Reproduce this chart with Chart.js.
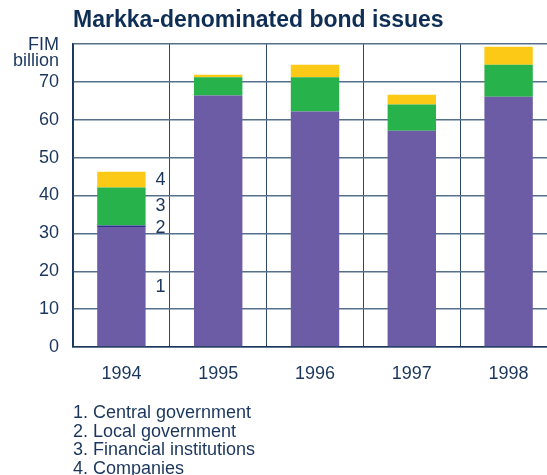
<!DOCTYPE html>
<html lang="en">
  <head>
    <meta charset="UTF-8" />
    <title>Markka-denominated bond issues</title>
    <script src="https://cdn.jsdelivr.net/npm/chart.js"></script>
    <style>
      html, body {
        margin: 0;
        padding: 0;
        overflow: hidden;
        background: #fff;
        font-family: "Liberation Sans", Arial, sans-serif;
        color: #1b365d;
      }
      #wrap {
        position: relative;
        width: 562px;
        height: 475px;
      }
      #title {
        position: absolute;
        left: 73px;
        top: 6px;
        font-size: 23px;
        line-height: 26px;
        font-weight: bold;
        color: #0f2e55;
        white-space: nowrap;
      }
      #notes {
        position: absolute;
        left: 73px;
        top: 403px;
        font-size: 18px;
        line-height: 18.5px;
        white-space: nowrap;
      }
    </style>
  </head>
  <body>
    <div id="wrap">
      <canvas id="bondChart" width="562" height="475"></canvas>
      <div id="title">Markka-denominated bond issues</div>
      <div id="notes"></div>
    </div>

    <script>
      const years = ["1994", "1995", "1996", "1997", "1998"];
      const seriesNames = [
        "Central government",
        "Local government",
        "Financial institutions",
        "Companies",
      ];
      // FIM billion
      const centralGov = [31.7, 66.4, 62.2, 57.1, 66.1];
      const localGov = [0.4, 0, 0, 0, 0];
      const financialInst = [10.0, 4.8, 9.0, 6.9, 8.4];
      const companies = [4.2, 0.7, 3.3, 2.6, 4.8];
      const seriesColors = ["#6b5ca5", "#2e3192", "#27b24c", "#fcc917"];
      const yTicks = [0, 10, 20, 30, 40, 50, 60, 70];

      document.getElementById("notes").innerHTML = seriesNames
        .map((n, i) => `${i + 1}. ${n}`)
        .join("<br>");

      const navy = "#1b365d";
      const font18 = "18px 'Liberation Sans', Arial, sans-serif";

      // numbers 1-4 next to the 1994 bar + unit label
      const sideLabels = {
        id: "sideLabels",
        afterDatasetsDraw(chart) {
          const { ctx, chartArea } = chart;
          ctx.save();
          ctx.fillStyle = navy;
          ctx.font = font18;
          ctx.textAlign = "center";
          ctx.textBaseline = "middle";
          chart.data.datasets.forEach((ds, i) => {
            const bar = chart.getDatasetMeta(i).data[0];
            const x = bar.x + bar.width / 2 + 15;
            let y = (bar.y + bar.base) / 2;
            if (i === 1) y += 2;
            ctx.fillText(String(i + 1), x, y);
          });
          ctx.textAlign = "right";
          ctx.fillText("FIM", chartArea.left - 14, chartArea.top + 1);
          ctx.fillText("billion", chartArea.left - 14, chartArea.top + 17);
          ctx.restore();
        },
      };

      new Chart(document.getElementById("bondChart"), {
        type: "bar",
        data: {
          labels: years,
          datasets: [centralGov, localGov, financialInst, companies].map(
            (vals, i) => ({
              label: seriesNames[i],
              data: vals,
              backgroundColor: seriesColors[i],
              borderWidth: 0,
              categoryPercentage: 0.5,
              barPercentage: 1,
            })
          ),
        },
        options: {
          responsive: false,
          animation: false,
          layout: { padding: { top: 44, left: 0, right: 5, bottom: 0 } },
          plugins: {
            legend: { display: false },
            tooltip: { enabled: false },
          },
          scales: {
            x: {
              stacked: true,
              grid: { color: "#2c4866", lineWidth: 1, drawTicks: false },
              border: { color: navy, width: 1.5 },
              ticks: {
                color: navy,
                padding: 16,
                font: { family: "'Liberation Sans', Arial", size: 18 },
              },
              afterFit: (scale) => {
                scale.height = 128;
              },
            },
            y: {
              stacked: true,
              min: 0,
              max: 80,
              grid: { color: "#56708c", lineWidth: 1.5, drawTicks: false },
              border: { color: navy, width: 1.5 },
              ticks: {
                stepSize: 10,
                color: navy,
                padding: 14,
                font: { family: "'Liberation Sans', Arial", size: 18 },
                callback: (v) => (yTicks.includes(v) ? String(v) : ""),
              },
              afterFit: (scale) => {
                scale.width = 73;
              },
            },
          },
        },
        plugins: [sideLabels],
      });
    </script>
  </body>
</html>
